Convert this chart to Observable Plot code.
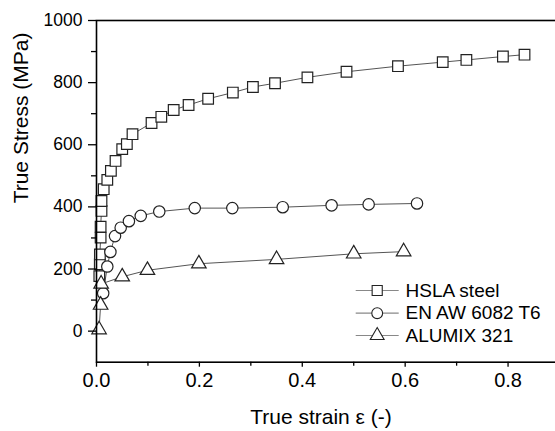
<!DOCTYPE html>
<html><head><meta charset="utf-8">
<script src="https://cdn.jsdelivr.net/npm/d3@7"></script>
<script src="https://cdn.jsdelivr.net/npm/@observablehq/plot@0.6"></script>
<style>html,body{margin:0;padding:0;background:#fff;overflow:hidden}svg{display:block}</style>
</head><body><div id="chart"></div>
<script>
// ---- data ----
const seriesNames = ["HSLA steel", "EN AW 6082 T6", "ALUMIX 321"];
const hslaStrain = [0.0055,0.0064,0.0066,0.008,0.008,0.0097,0.0097,0.014,0.021,0.028,0.037,0.050,0.059,0.070,0.107,0.126,0.150,0.179,0.217,0.265,0.304,0.347,0.410,0.486,0.586,0.673,0.719,0.790,0.832];
const hslaStress = [177,215,247,301,336,387,419,457,487,516,548,586,602,634,670,690,712,728,748,768,786,798,817,835,853,866,873,884,890];
const enawStrain = [0.013,0.021,0.027,0.036,0.047,0.063,0.086,0.122,0.191,0.264,0.362,0.457,0.529,0.623];
const enawStress = [122,208,255,306,333,354,371,385,396,396,399,405,408,411];
const alumixStrain = [0.005,0.008,0.009,0.050,0.099,0.199,0.350,0.500,0.597];
const alumixStress = [5,84,152,175,196,217,231,249,256];
const xMajorTicks = [0, 0.2, 0.4, 0.6, 0.8];
const xMinorTicks = [0.1, 0.3, 0.5, 0.7];
const yMajorTicks = [0, 200, 400, 600, 800, 1000];
const yMinorTicks = [100, 300, 500, 700, 900];
const xTitle = "True strain ε (-)";
const yTitle = "True Stress (MPa)";

// ---- build tables ----
const toRows = (xs, ys, name) => xs.map((x, i) => ({strain: x, stress: ys[i], series: name}));
const tables = [
  toRows(hslaStrain, hslaStress, seriesNames[0]),
  toRows(enawStrain, enawStress, seriesNames[1]),
  toRows(alumixStrain, alumixStress, seriesNames[2])
];

// ---- styles ----
const symbols = ["square", "circle", "triangle"];
const radii = [6, 5.7, 5.4];
const legendDy = [-71.7, -49, -26.7];
const lineSym = {draw(ctx) { ctx.moveTo(-21.5, 0); ctx.lineTo(21.5, 0); }};

const marks = [];
tables.forEach((rows, i) => {
  marks.push(Plot.line(rows, {x: "strain", y: "stress", stroke: "#555", strokeWidth: 1}));
});
tables.forEach((rows, i) => {
  marks.push(Plot.dot(rows, {x: "strain", y: "stress", symbol: symbols[i], r: radii[i], fill: "white", stroke: "#222", strokeWidth: 1.2}));
});
// axes
marks.push(Plot.axisX({ticks: xMajorTicks, tickFormat: d3.format(".1f"), tickSize: 5, tickPadding: 6, fontSize: 20, label: null, stroke: "#000", strokeWidth: 1.3, fill: "#000"}));
marks.push(Plot.axisX({ticks: xMinorTicks, tickFormat: () => "", tickSize: 4, label: null, stroke: "#000", strokeWidth: 1.3}));
marks.push(Plot.axisY({ticks: yMajorTicks, tickFormat: d3.format("d"), tickSize: 8, tickPadding: 6, fontSize: 17.5, label: null, stroke: "#000", strokeWidth: 1.3, fill: "#000"}));
marks.push(Plot.axisY({ticks: yMinorTicks, tickFormat: () => "", tickSize: 5, label: null, stroke: "#000", strokeWidth: 1.3}));
marks.push(Plot.frame({stroke: "#000", strokeWidth: 1.6}));
// titles
marks.push(Plot.text([xTitle], {text: d => d, frameAnchor: "bottom", dx: -7, dy: 55, lineAnchor: "middle", fontSize: 21, fill: "#000"}));
marks.push(Plot.text([yTitle], {text: d => d, frameAnchor: "left", rotate: -90, dx: -75, dy: 12, lineAnchor: "middle", fontSize: 21, fill: "#000"}));
// legend
seriesNames.forEach((name, i) => {
  marks.push(Plot.dot([name], {frameAnchor: "bottom-right", dx: -182.3, dy: legendDy[i], symbol: lineSym, r: 5, fill: "none", stroke: "#888", strokeWidth: 1.2}));
  marks.push(Plot.dot([name], {frameAnchor: "bottom-right", dx: -182.3, dy: legendDy[i], symbol: symbols[i], r: radii[i] * 0.95, fill: "white", stroke: "#222", strokeWidth: 1.1}));
  marks.push(Plot.text([name], {text: d => d, frameAnchor: "bottom-right", dx: -154, dy: legendDy[i], textAnchor: "start", lineAnchor: "middle", fontSize: 19, fill: "#000"}));
});

const chart = Plot.plot({
  width: 555,
  height: 431,
  marginLeft: 96,
  marginRight: -4,
  marginTop: 20,
  marginBottom: 69.3,
  x: {domain: [0, 0.9]},
  y: {domain: [-100, 1000]},
  style: {fontFamily: "'Liberation Sans', Arial, sans-serif", background: "#fff", color: "#000"},
  marks
});
document.getElementById("chart").appendChild(chart);
</script>
</body></html>
